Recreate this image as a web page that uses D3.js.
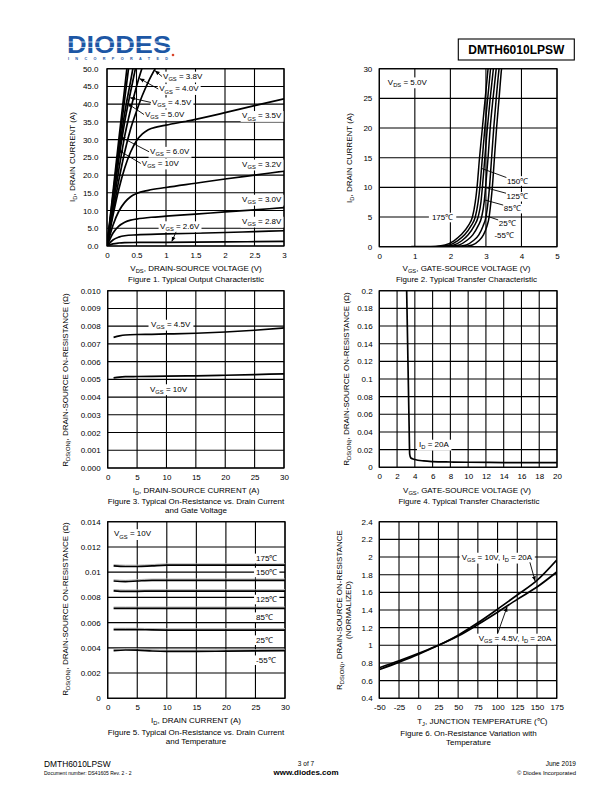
<!DOCTYPE html>
<html><head><meta charset="utf-8">
<script src="https://cdn.jsdelivr.net/npm/d3@7"></script>
<style>body{margin:0;background:#fff}svg{display:block}</style>
</head><body><svg id="c" width="612" height="792"></svg>
<script>
// ---------------- DATA ----------------
// Figure 1: Output characteristic, [VDS (V), ID (A)]
const f1_10V = [[0,0],[0.1,15],[0.2,30],[0.3,44.5],[0.35,52]];
const f1_6V  = [[0,0],[0.1,14],[0.2,28],[0.3,41.5],[0.38,52]];
const f1_5V  = [[0,0],[0.1,13],[0.2,26],[0.3,37.5],[0.4,46.5],[0.46,52]];
const f1_4V5 = [[0,0],[0.1,12.5],[0.2,24.5],[0.3,35],[0.4,43.5],[0.5,51.5]];
const f1_4V  = [[0,0],[0.1,11],[0.2,21.5],[0.3,31],[0.4,38.5],[0.5,45],[0.6,50.5]];
const f1_3V8 = [[0,0],[0.1,9.5],[0.2,18.5],[0.3,26.5],[0.4,33],[0.5,38],[0.6,42.5],[0.7,46.3],[0.85,51]];
const f1_3V5 = [[0,0],[0.1,8.5],[0.2,16],[0.3,22],[0.4,26.5],[0.5,29.7],[0.6,31.6],[0.7,32.8],[0.85,33.6],[1,34.1],[1.5,35.7],[2,37.6],[2.5,39.6],[3,41.5]];
const f1_3V2 = [[0,0],[0.1,5.8],[0.2,9.8],[0.3,12.3],[0.4,13.9],[0.5,14.8],[0.7,15.7],[1,16.5],[1.5,17.7],[2,18.9],[2.5,20],[3,21.1]];
const f1_3V0 = [[0,0],[0.1,3.6],[0.2,5.6],[0.3,6.7],[0.4,7.3],[0.5,7.6],[0.75,8.1],[1,8.4],[1.5,9],[2,9.6],[2.5,10.2],[3,10.8]];
const f1_2V8 = [[0,0],[0.1,1.7],[0.2,2.5],[0.3,2.9],[0.5,3.15],[1,3.4],[1.5,3.6],[2,3.8],[2.5,4.05],[3,4.3]];
const f1_2V6 = [[0,0],[0.1,0.6],[0.2,0.85],[0.3,0.95],[0.5,1.0],[1,1.05],[2,1.15],[3,1.3]];
const f1XTicks = [0,0.5,1,1.5,2,2.5,3];
const f1YTicks = [0,5,10,15,20,25,30,35,40,45,50];
// labels: text, label VDS, label ID, arrow target VDS (null = no arrow)
const f1LabText = ["V_{GS} = 3.8V","V_{GS} = 4.0V","V_{GS} = 4.5V","V_{GS} = 5.0V","V_{GS} = 6.0V","V_{GS} = 10V","V_{GS} = 3.5V","V_{GS} = 3.2V","V_{GS} = 3.0V","V_{GS} = 2.8V","V_{GS} = 2.6V"];
const f1LabX = [0.95,0.886,0.763,0.644,0.73,0.59,2.29,2.29,2.29,2.29,0.9];
const f1LabY = [47.1,43.6,39.8,36.4,25.9,22.6,36,22.3,12.4,6.2,4.9];
const f1ArrowX = [0.8,0.54,0.38,0.33,0.22,0.18,null,null,null,null,1.1];

// Figure 2: Transfer characteristic, ID (A) vs VGS (V) per temperature
const f2Id = [0,0.3,1,2,3.5,5,7.5,10,15,20,25,30,32];
const f2Vgs175 = [1.45,1.85,2.1,2.3,2.5,2.62,2.7,2.75,2.82,2.9,2.98,3.06,3.09];
const f2Vgs150 = [1.6,1.97,2.2,2.4,2.58,2.7,2.78,2.83,2.9,2.97,3.05,3.13,3.16];
const f2Vgs125 = [1.75,2.1,2.32,2.5,2.67,2.78,2.86,2.9,2.97,3.04,3.12,3.21,3.25];
const f2Vgs85  = [1.9,2.25,2.45,2.63,2.78,2.88,2.95,2.99,3.06,3.12,3.2,3.29,3.33];
const f2Vgs25  = [2.1,2.45,2.64,2.8,2.92,3.0,3.06,3.1,3.16,3.22,3.29,3.37,3.41];
const f2VgsM55 = [2.3,2.62,2.8,2.93,3.03,3.09,3.14,3.18,3.24,3.3,3.37,3.44,3.48];
const f2XTicks = [0,1,2,3,4,5];
const f2YTicks = [0,5,10,15,20,25,30];

// Figure 3: RDS(ON) vs ID
const f3Id  = [1,2,3,5,7.5,10,15,20,25,30];
const f3R45 = [0.00737,0.00745,0.0075,0.00753,0.00754,0.00756,0.0076,0.00767,0.00777,0.0079];
const f3R10 = [0.00508,0.00513,0.00515,0.00516,0.00517,0.00518,0.0052,0.00523,0.00527,0.00531];
const f3XTicks = [0,5,10,15,20,25,30];
const f3YTicks = [0,0.001,0.002,0.003,0.004,0.005,0.006,0.007,0.008,0.009,0.010];

// Figure 4: RDS(ON) vs VGS, ID = 20A
const f4Vgs = [3.06,3.08,3.17,3.26,3.35,3.42,3.55,4,5,6,8,10,14,20];
const f4R   = [0.21,0.2,0.15,0.1,0.05,0.015,0.0105,0.0088,0.0072,0.0065,0.006,0.0057,0.0054,0.0052];
const f4XTicks = [0,2,4,6,8,10,12,14,16,18,20];
const f4YTicks = [0,0.02,0.04,0.06,0.08,0.1,0.12,0.14,0.16,0.18,0.2];

// Figure 5: RDS(ON) vs ID and temperature, VGS = 10V
const f5Id = [1,3,5,7.5,10,15,20,25,30];
const f5R175 = [0.0105,0.01045,0.01045,0.0105,0.01055,0.01055,0.01055,0.01055,0.01055];
const f5R150 = [0.0093,0.00925,0.0093,0.00935,0.00935,0.00935,0.00935,0.00935,0.00935];
const f5R125 = [0.00852,0.00848,0.00848,0.0085,0.0085,0.0085,0.0085,0.0085,0.0085];
const f5R85  = [0.00713,0.00713,0.00713,0.00713,0.00713,0.00713,0.00713,0.00713,0.00713];
const f5R25  = [0.00545,0.00545,0.00545,0.00542,0.00541,0.00541,0.00541,0.00541,0.00541];
const f5RM55 = [0.00378,0.00383,0.00382,0.00375,0.00372,0.00372,0.00374,0.00376,0.00378];
const f5Labels = ["175℃","150℃","125℃","85℃","25℃","-55℃"];
const f5LabY = [0.01089,0.00977,0.00763,0.00623,0.00441,0.00282];
const f5XTicks = [0,5,10,15,20,25,30];
const f5YTicks = [0,0.002,0.004,0.006,0.008,0.010,0.012,0.014];

// Figure 6: normalized RDS(ON) vs TJ
const f6T   = [-50,-25,0,25,50,75,100,125,150,175];
const f6R10 = [0.725,0.81,0.9,1.0,1.115,1.255,1.41,1.57,1.735,1.965];
const f6R45 = [0.745,0.825,0.91,1.0,1.105,1.235,1.375,1.52,1.66,1.83];
const f6XTicks = [-50,-25,0,25,50,75,100,125,150,175];
const f6YTicks = [0.4,0.6,0.8,1,1.2,1.4,1.6,1.8,2,2.2,2.4];

// ---------------- DRAWING ----------------
const FONT = '"Liberation Sans", Arial, Helvetica, sans-serif';
const svg = d3.select('#c').attr('font-family', FONT);
const defs = svg.append('defs');
defs.append('marker').attr('id','arr').attr('viewBox','0 0 10 10').attr('refX',9).attr('refY',5)
  .attr('markerWidth',5).attr('markerHeight',5).attr('orient','auto').attr('markerUnits','userSpaceOnUse')
  .append('path').attr('d','M0,1L10,5L0,9z').attr('fill','#000');
let clipN = 0;

function rich(t, str, size) {
  const parts = str.split(/(_\{[^}]*\})/);
  let sub = false;
  parts.forEach(p => {
    if (!p) return;
    if (p.startsWith('_{')) {
      t.append('tspan').attr('font-size', size*0.72).attr('dy', size*0.28).text(p.slice(2,-1));
      sub = true;
    } else {
      const s = t.append('tspan').text(p);
      if (sub) { s.attr('dy', -size*0.28); sub = false; }
    }
  });
}
function txt(g, str, x, y, o = {}) {
  const size = o.size || 8;
  const t = g.append('text').attr('font-size', size).attr('fill', '#000')
    .attr('text-anchor', o.anchor || 'start');
  if (o.rotate) t.attr('transform', `translate(${x},${y}) rotate(-90)`);
  else t.attr('x', x).attr('y', y);
  if (o.weight) t.attr('font-weight', o.weight);
  rich(t, str, size);
  return t;
}
function label(g, str, x, y, o = {}) {
  const grp = g.append('g');
  const r = grp.append('rect').attr('fill', '#fff');
  const t = txt(grp, str, x, y, o);
  if (o.bg !== false) {
    const bb = t.node().getBBox(); const p = o.pad == null ? 1.5 : o.pad;
    r.attr('x', bb.x - p).attr('y', bb.y - 0.3).attr('width', bb.width + 2*p).attr('height', bb.height + 0.6);
  } else r.remove();
  return t;
}
const plainFmt = d => String(d);
function frame(o) {
  const x = d3.scaleLinear().domain(o.xd).range([o.l, o.r]);
  const y = d3.scaleLinear().domain(o.yd).range([o.b, o.t]);
  const g = svg.append('g');
  const id = 'clip' + (++clipN);
  defs.append('clipPath').attr('id', id).append('rect')
    .attr('x', o.l).attr('y', o.t).attr('width', o.r - o.l).attr('height', o.b - o.t);
  g.append('g').selectAll('line').data(o.xt).join('line')
    .attr('x1', d => x(d)).attr('x2', d => x(d)).attr('y1', o.t).attr('y2', o.b)
    .attr('stroke', '#000').attr('stroke-width', 1.1);
  g.append('g').selectAll('line').data(o.yt).join('line')
    .attr('y1', d => y(d)).attr('y2', d => y(d)).attr('x1', o.l).attr('x2', o.r)
    .attr('stroke', '#000').attr('stroke-width', 1.1);
  g.append('rect').attr('x', o.l).attr('y', o.t).attr('width', o.r - o.l).attr('height', o.b - o.t)
    .attr('fill', 'none').attr('stroke', '#000').attr('stroke-width', 1.2);
  const ax = g.append('g').attr('transform', `translate(0,${o.b})`)
    .call(d3.axisBottom(x).tickValues(o.xt).tickFormat(o.xf).tickSize(0).tickPadding(o.xpad || 6.5));
  const ay = g.append('g').attr('transform', `translate(${o.l},0)`)
    .call(d3.axisLeft(y).tickValues(o.yt).tickFormat(o.yf).tickSize(0).tickPadding(o.ypad || 7));
  [ax, ay].forEach(a => { a.select('.domain').remove(); a.attr('font-size', 8).attr('font-family', FONT); a.selectAll('text').attr('fill', '#000'); });
  const plot = g.append('g').attr('clip-path', `url(#${id})`);
  return { x, y, g, plot };
}
function interp(xs, ys, v) {
  for (let i = 0; i < xs.length - 1; i++) {
    if (v >= xs[i] && v <= xs[i+1]) return ys[i] + (ys[i+1] - ys[i]) * (v - xs[i]) / (xs[i+1] - xs[i]);
  }
  return ys[ys.length - 1];
}
function arrow(g, x1, y1, x2, y2, head = true) {
  const l = g.append('line').attr('x1', x1).attr('y1', y1).attr('x2', x2).attr('y2', y2)
    .attr('stroke', '#000').attr('stroke-width', 0.9);
  if (head) l.attr('marker-end', 'url(#arr)');
}
const CW = 1.7;

// ---- Logo & header ----
const logo = svg.append('g');
logo.append('text').attr('x', 67).attr('y', 53).attr('font-size', 23.5).attr('font-weight', 'bold')
  .attr('fill', '#1d57a5').attr('textLength', 104).attr('lengthAdjust', 'spacingAndGlyphs').text('DIODES');
logo.append('line').attr('x1', 64).attr('x2', 174).attr('y1', 42).attr('y2', 42).attr('stroke', '#fff').attr('stroke-width', 0.7);
logo.append('line').attr('x1', 64).attr('x2', 174).attr('y1', 47.5).attr('y2', 47.5).attr('stroke', '#fff').attr('stroke-width', 0.7);
logo.append('text').attr('x', 68).attr('y', 60).attr('font-size', 3.8).attr('font-weight', 'bold')
  .attr('fill', '#1d57a5').attr('textLength', 100).attr('lengthAdjust', 'spacing').text('INCORPORATED');
logo.append('circle').attr('cx', 173).attr('cy', 55).attr('r', 1.3).attr('fill', '#d9452b');
svg.append('rect').attr('x', 458.3).attr('y', 39).attr('width', 116).attr('height', 21)
  .attr('fill', 'none').attr('stroke', '#000').attr('stroke-width', 1.1);
txt(svg, 'DMTH6010LPSW', 516.3, 53.6, { size: 12, anchor: 'middle', weight: 'bold' });

// ---- Figure 1 ----
{
  const c = frame({ l: 107, r: 284, t: 68.7, b: 246, xd: [0, 3], yd: [0, 50], xt: f1XTicks, yt: f1YTicks,
    xf: plainFmt, yf: d3.format('.1f'), ypad: 8.5 });
  const line = d3.line().x(d => c.x(d[0])).y(d => c.y(d[1])).curve(d3.curveMonotoneX);
  const series = [f1_3V8, f1_4V, f1_4V5, f1_5V, f1_6V, f1_10V, f1_3V5, f1_3V2, f1_3V0, f1_2V8, f1_2V6];
  c.plot.selectAll('path.s').data(series).join('path').attr('class', 's').attr('d', line)
    .attr('fill', 'none').attr('stroke', '#000').attr('stroke-width', CW);
  f1LabText.forEach((s, i) => {
    const t = label(c.g, s, c.x(f1LabX[i]), c.y(f1LabY[i]));
    if (f1ArrowX[i] != null) {
      const ser = series[i];
      const ty = interp(ser.map(d => d[0]), ser.map(d => d[1]), f1ArrowX[i]);
      const bb = t.node().getBBox();
      if (i === 10) arrow(c.g, bb.x + 16, bb.y + bb.height, c.x(f1ArrowX[i]), c.y(ty) - 1);
      else arrow(c.g, bb.x - 1, bb.y + bb.height * 0.45, c.x(f1ArrowX[i]) + 1, c.y(ty));
    }
  });
  txt(c.g, 'V_{DS}, DRAIN-SOURCE VOLTAGE (V)', 196, 270.5, { anchor: 'middle' });
  txt(c.g, 'Figure 1. Typical Output Characteristic', 196, 282, { anchor: 'middle' });
  txt(c.g, 'I_{D}, DRAIN CURRENT (A)', 74.5, 157, { anchor: 'middle', rotate: true });
}

// ---- Figure 2 ----
{
  const c = frame({ l: 379.3, r: 557, t: 68.7, b: 246.7, xd: [0, 5], yd: [0, 30], xt: f2XTicks, yt: f2YTicks,
    xf: plainFmt, yf: plainFmt });
  const sets = [f2Vgs175, f2Vgs150, f2Vgs125, f2Vgs85, f2Vgs25, f2VgsM55];
  const line = d3.line().x(d => c.x(d[0])).y(d => c.y(d[1])).curve(d3.curveMonotoneX);
  const base = d3.line().x(d => c.x(d[0])).y(d => c.y(d[1]));
  c.plot.append('path').attr('d', base([[0.9, 0], [2.3, 0]])).attr('stroke', '#000').attr('stroke-width', CW);
  c.plot.selectAll('path.s').data(sets).join('path').attr('class', 's')
    .attr('d', v => line(v.map((vg, i) => [vg, f2Id[i]])))
    .attr('fill', 'none').attr('stroke', '#000').attr('stroke-width', 1.5);
  label(c.g, 'V_{DS} = 5.0V', c.x(0.24), c.y(27.3));
  label(c.g, '175℃', c.x(1.48), c.y(4.5), { pad: 3 });
  const labs = [['150℃', 3.59, 10.65, f2Vgs150, 13.2], ['125℃', 3.58, 8.0, f2Vgs125, 10.1],
                ['85℃', 3.5, 6.0, f2Vgs85, 7.9], ['25℃', 3.36, 3.5, f2Vgs25, 5.2]];
  labs.forEach(([s, lx, ly, ser, ti]) => {
    const t = label(c.g, s, c.x(lx), c.y(ly));
    const bb = t.node().getBBox();
    arrow(c.g, bb.x - 0.5, bb.y + 1, c.x(interp(f2Id, ser, ti)), c.y(ti), false);
  });
  label(c.g, '-55℃', c.x(3.24), c.y(1.4), { bg: false });
  txt(c.g, 'V_{GS}, GATE-SOURCE VOLTAGE (V)', 466.5, 270.5, { anchor: 'middle' });
  txt(c.g, 'Figure 2. Typical Transfer Characteristic', 466.5, 282, { anchor: 'middle' });
  txt(c.g, 'I_{D}, DRAIN CURRENT (A)', 352, 158, { anchor: 'middle', rotate: true });
}

// ---- Figure 3 ----
{
  const c = frame({ l: 107.7, r: 284, t: 290.7, b: 468, xd: [0, 30], yd: [0, 0.010], xt: f3XTicks, yt: f3YTicks,
    xf: plainFmt, yf: d3.format('.3f') });
  const line = d3.line().x((d, i) => c.x(f3Id[i])).y(d => c.y(d)).curve(d3.curveMonotoneX);
  c.plot.selectAll('path.s').data([f3R45, f3R10]).join('path').attr('class', 's').attr('d', line)
    .attr('fill', 'none').attr('stroke', '#000').attr('stroke-width', CW);
  label(c.g, 'V_{GS} = 4.5V', c.x(7.37), c.y(0.00795), { pad: 2.5 });
  label(c.g, 'V_{GS} = 10V', c.x(7.2), c.y(0.00431), { pad: 2.5 });
  txt(c.g, 'I_{D}, DRAIN-SOURCE CURRENT (A)', 196, 492.8, { anchor: 'middle' });
  txt(c.g, 'Figure 3. Typical On-Resistance vs. Drain Current', 196, 503.5, { anchor: 'middle' });
  txt(c.g, 'and Gate Voltage', 196, 512.5, { anchor: 'middle' });
  txt(c.g, 'R_{DS(ON)}, DRAIN-SOURCE ON-RESISTANCE (Ω)', 67.5, 380, { anchor: 'middle', rotate: true });
}

// ---- Figure 4 ----
{
  const c = frame({ l: 379.3, r: 557, t: 290.7, b: 467.3, xd: [0, 20], yd: [0, 0.2], xt: f4XTicks, yt: f4YTicks,
    xf: plainFmt, yf: d => d === 0 ? '0' : d3.format('.2~f')(d), ypad: 6.6 });
  const line = d3.line().x((d, i) => c.x(f4Vgs[i])).y(d => c.y(d)).curve(d3.curveMonotoneX);
  c.plot.append('path').datum(f4R).attr('d', line).attr('fill', 'none').attr('stroke', '#000').attr('stroke-width', CW);
  label(c.g, 'I_{D} = 20A', c.x(4.47), c.y(0.023), { pad: 2 });
  txt(c.g, 'V_{GS}, GATE-SOURCE VOLTAGE (V)', 467, 492.8, { anchor: 'middle' });
  txt(c.g, 'Figure 4. Typical Transfer Characteristic', 469, 503.5, { anchor: 'middle' });
  txt(c.g, 'R_{DS(ON)}, DRAIN-SOURCE ON-RESISTANCE (Ω)', 348.5, 379, { anchor: 'middle', rotate: true });
}

// ---- Figure 5 ----
{
  const c = frame({ l: 107.7, r: 285, t: 521.7, b: 698.3, xd: [0, 30], yd: [0, 0.014], xt: f5XTicks, yt: f5YTicks,
    xf: plainFmt, yf: d => d === 0 ? '0' : d3.format('.3~f')(d) });
  const line = d3.line().x((d, i) => c.x(f5Id[i])).y(d => c.y(d)).curve(d3.curveMonotoneX);
  const sets = [f5R175, f5R150, f5R125, f5R85, f5R25, f5RM55];
  c.plot.selectAll('path.g').data(sets).join('path').attr('class', 'g').attr('d', line)
    .attr('transform', 'translate(0,-1.3)').attr('fill', 'none').attr('stroke', '#b0b0b0').attr('stroke-width', 1);
  c.plot.selectAll('path.s').data(sets).join('path').attr('class', 's').attr('d', line)
    .attr('fill', 'none').attr('stroke', '#000').attr('stroke-width', CW);
  f5Labels.forEach((s, i) => label(c.g, s, c.x(25.1), c.y(f5LabY[i]), { pad: 2 }));
  label(c.g, 'V_{GS} = 10V', c.x(1.07), c.y(0.01283), { pad: 2 });
  txt(c.g, 'I_{D}, DRAIN CURRENT (A)', 196, 723, { anchor: 'middle' });
  txt(c.g, 'Figure 5. Typical On-Resistance vs. Drain Current', 196, 735, { anchor: 'middle' });
  txt(c.g, 'and Temperature', 196, 744, { anchor: 'middle' });
  txt(c.g, 'R_{DS(ON)}, DRAIN-SOURCE ON-RESISTANCE (Ω)', 67.5, 609, { anchor: 'middle', rotate: true });
}

// ---- Figure 6 ----
{
  const c = frame({ l: 379.3, r: 556.7, t: 521.7, b: 698.3, xd: [-50, 175], yd: [0.4, 2.4], xt: f6XTicks, yt: f6YTicks,
    xf: plainFmt, yf: plainFmt, ypad: 6.6 });
  const line = d3.line().x((d, i) => c.x(f6T[i])).y(d => c.y(d)).curve(d3.curveMonotoneX);
  c.plot.selectAll('path.s').data([f6R10, f6R45]).join('path').attr('class', 's').attr('d', line)
    .attr('fill', 'none').attr('stroke', '#000').attr('stroke-width', CW);
  label(c.g, 'V_{GS} = 10V, I_{D} = 20A', c.x(54.5), c.y(1.966), { pad: 2 });
  arrow(c.g, c.x(141), c.y(1.94), c.x(147.5), c.y(interp(f6T, f6R10, 147.5)) - 1);
  label(c.g, 'V_{GS} = 4.5V, I_{D} = 20A', c.x(76.1), c.y(1.049), { pad: 2 });
  arrow(c.g, c.x(100.2), c.y(1.137), c.x(112), c.y(interp(f6T, f6R45, 112)) + 1);
  txt(c.g, 'T_{J}, JUNCTION TEMPERATURE (℃)', 482.3, 723.5, { anchor: 'middle' });
  txt(c.g, 'Figure 6. On-Resistance Variation with', 468.5, 735.5, { anchor: 'middle' });
  txt(c.g, 'Temperature', 468.5, 744.5, { anchor: 'middle' });
  txt(c.g, 'R_{DS(ON)}, DRAIN-SOURCE ON-RESISTANCE', 342, 610, { anchor: 'middle', rotate: true });
  txt(c.g, '(NORMALIZED)', 351, 610, { anchor: 'middle', rotate: true });
}

// ---- Footer ----
txt(svg, 'DMTH6010LPSW', 44, 766.5, { size: 8.4 });
txt(svg, 'Document number: DS41605  Rev. 2 - 2', 44, 774.8, { size: 5 });
txt(svg, '3 of 7', 306, 765.5, { size: 6.5, anchor: 'middle' });
txt(svg, 'www.diodes.com', 306, 775, { size: 8, anchor: 'middle', weight: 'bold' });
txt(svg, 'June 2019', 576, 765.5, { size: 6.5, anchor: 'end' });
txt(svg, '© Diodes Incorporated', 576, 774.5, { size: 5.9, anchor: 'end' });
</script></body></html>
